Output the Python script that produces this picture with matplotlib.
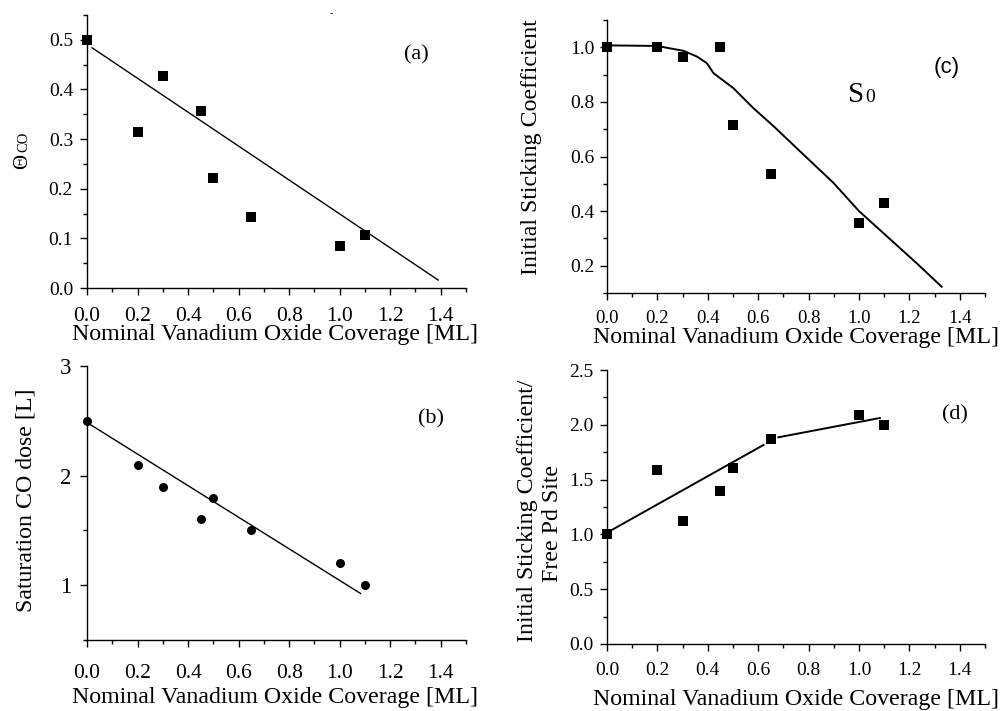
import matplotlib
matplotlib.use("Agg")
import matplotlib.pyplot as plt
from matplotlib.ticker import MultipleLocator, FormatStrFormatter

plt.rcParams["font.family"] = ["Liberation Serif", "DejaVu Serif"]

# Nominal vanadium oxide coverage [ML] for the measured points
coverage = [0.0, 0.2, 0.3, 0.45, 0.5, 0.65, 1.0, 1.1]

# (a) CO saturation coverage
theta_co = [0.50, 0.315, 0.428, 0.357, 0.221, 0.143, 0.085, 0.107]
theta_fit_x = [0.02, 1.39]
theta_fit_y = [0.484, 0.016]

# (b) saturation CO dose [L]
sat_dose = [2.5, 2.1, 1.9, 1.6, 1.8, 1.5, 1.2, 1.0]
dose_fit_x = [0.01, 1.083]
dose_fit_y = [2.47, 0.924]

# (c) initial sticking coefficient S0
s0 = [1.0, 1.0, 0.963, 1.0, 0.714, 0.536, 0.357, 0.429]
s0_fit_x = [0.0, 0.198, 0.304, 0.357, 0.396, 0.423, 0.502, 0.581, 0.661,
            0.766, 0.898, 1.0, 1.096, 1.229, 1.328]
s0_fit_y = [1.007, 1.005, 0.987, 0.966, 0.942, 0.905, 0.850, 0.777, 0.711,
            0.619, 0.504, 0.400, 0.320, 0.209, 0.123]

# (d) initial sticking coefficient per free Pd site
s0_per_site = [1.0, 1.59, 1.125, 1.40, 1.61, 1.875, 2.085, 2.0]
site_fit1_x = [0.007, 0.621]
site_fit1_y = [1.025, 1.816]
site_fit2_x = [0.68, 1.083]
site_fit2_y = [1.886, 2.062]

XLABEL = "Nominal Vanadium Oxide Coverage [ML]"

W, H = 1001, 711
fig = plt.figure(figsize=(W / 100, H / 100), dpi=100)


def axes_px(left, right, top, bottom):
    return fig.add_axes([left / W, (H - bottom) / H, (right - left) / W, (bottom - top) / H])


def style(ax, ylim, ymaj, ymin, yfmt, xsize, ysize, xpad, ypad):
    ax.set_xlim(0, 1.5)
    ax.set_ylim(*ylim)
    for s in ("top", "right"):
        ax.spines[s].set_visible(False)
    for s in ("left", "bottom"):
        ax.spines[s].set_linewidth(1.0)
    ax.xaxis.set_minor_locator(MultipleLocator(0.1))
    ax.xaxis.set_major_formatter(FormatStrFormatter("%.1f"))
    ax.yaxis.set_major_locator(MultipleLocator(ymaj))
    ax.yaxis.set_minor_locator(MultipleLocator(ymin))
    ax.yaxis.set_major_formatter(FormatStrFormatter(yfmt))
    ax.tick_params(which="major", direction="out", length=5, width=1.0)
    ax.tick_params(which="minor", direction="out", length=3, width=1.0)
    ax.tick_params(axis="x", which="major", labelsize=xsize, pad=xpad)
    ax.tick_params(axis="y", which="major", labelsize=ysize, pad=ypad)
    ax.set_xticks([0.0, 0.2, 0.4, 0.6, 0.8, 1.0, 1.2, 1.4])


mk = dict(color="black", markersize=6.5, markeredgewidth=0, linestyle="none")

# ---- (a)
ax_a = axes_px(87, 466, 15, 288)
ax_a.plot(theta_fit_x, theta_fit_y, color="black", lw=1.0)
ax_a.plot(coverage, theta_co, marker="s", clip_on=False, **mk)
style(ax_a, (0, 0.55), 0.1, 0.05, "%.1f", 15.5, 14, 9, 5)
ax_a.set_yticks([0.0, 0.1, 0.2, 0.3, 0.4, 0.5])
fig.text(416 / W, 1 - 55 / H, "(a)", fontsize=16, ha="center", va="center")
fig.text(331 / W, 1 - 14 / H, "-", fontsize=7, ha="center", va="center")
fig.text(275 / W, 1 - 335 / H, XLABEL, fontsize=17.2, ha="center", va="center")
fig.text(27 / W, 1 - 169 / H, "\u0398", fontsize=15, rotation=90,
         rotation_mode="anchor", ha="left", va="baseline")
fig.text(27 / W, 1 - 152 / H, "CO", fontsize=10.5, rotation=90,
         rotation_mode="anchor", ha="left", va="baseline")

# ---- (b)
ax_b = axes_px(87, 466, 366, 640)
ax_b.plot(dose_fit_x, dose_fit_y, color="black", lw=1.0)
ax_b.plot(coverage, sat_dose, marker="o", clip_on=False, **mk)
style(ax_b, (0.5, 3.0), 1, 0.5, "%d", 15.5, 16.5, 12, 6)
ax_b.set_yticks([1, 2, 3])
fig.text(431 / W, 1 - 419 / H, "(b)", fontsize=16, ha="center", va="center")
fig.text(275 / W, 1 - 697 / H, XLABEL, fontsize=17.2, ha="center", va="center")
fig.text(26 / W, 1 - 500 / H, "Saturation CO dose [L]", fontsize=17.2,
         rotation=90, ha="center", va="center")

# ---- (c)
ax_c = axes_px(607, 985, 20, 293)
ax_c.plot(s0_fit_x, s0_fit_y, color="black", lw=1.4)
ax_c.plot(coverage, s0, marker="s", clip_on=False, **mk)
style(ax_c, (0.1, 1.1), 0.2, 0.1, "%.1f", 13.5, 14, 7, 4)
ax_c.set_yticks([0.2, 0.4, 0.6, 0.8, 1.0])
fig.text(947 / W, 1 - 68 / H, "(c)", fontsize=16, ha="center", va="center",
         family=["Liberation Sans", "DejaVu Sans"])
fig.text(848 / W, 1 - 102 / H, "S", fontsize=21, ha="left", va="baseline")
fig.text(865 / W, 1 - 102 / H, "0", fontsize=14, ha="left", va="baseline")
fig.text(796 / W, 1 - 337 / H, XLABEL, fontsize=17.2, ha="center", va="center")
fig.text(532 / W, 1 - 147 / H, "Initial Sticking Coefficient", fontsize=17.2,
         rotation=90, ha="center", va="center")

# ---- (d)
ax_d = axes_px(607, 985, 370, 644)
ax_d.plot(site_fit1_x, site_fit1_y, color="black", lw=1.4)
ax_d.plot(site_fit2_x, site_fit2_y, color="black", lw=1.4)
ax_d.plot(coverage, s0_per_site, marker="s", clip_on=False, **mk)
style(ax_d, (0.0, 2.5), 0.5, 0.25, "%.1f", 14, 14, 8, 5)
fig.text(955 / W, 1 - 415 / H, "(d)", fontsize=16, ha="center", va="center")
fig.text(796 / W, 1 - 699 / H, XLABEL, fontsize=17.2, ha="center", va="center")
fig.text(528 / W, 1 - 511 / H, "Initial Sticking Coefficient/", fontsize=17.2,
         rotation=90, ha="center", va="center")
fig.text(553 / W, 1 - 524 / H, "Free Pd Site", fontsize=17.2,
         rotation=90, ha="center", va="center")

fig.savefig("out.png", dpi=100)
